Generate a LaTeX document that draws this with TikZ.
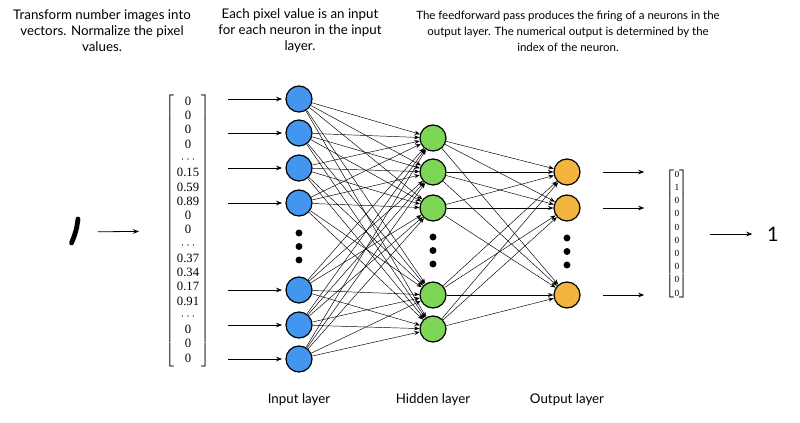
\documentclass[tikz,border=0pt]{standalone}
\usepackage{fontspec}
\setmainfont{Lato}
\newfontfamily\vecfont{Liberation Serif}
\usetikzlibrary{positioning, arrows.meta}
\definecolor{inblue}{RGB}{66,150,240}
\definecolor{hidgreen}{RGB}{126,214,86}
\definecolor{outorange}{RGB}{242,180,62}
\tikzset{
  neuron/.style={
    draw, circle, line width=0.9pt,
    minimum size=19.5pt, inner sep=0pt
  },
  inneuron/.style={neuron, fill=inblue},
  hidneuron/.style={neuron, fill=hidgreen},
  outneuron/.style={neuron, fill=outorange},
  % Connections between layers
  conn/.style={
    -{Stealth[length=4pt,width=3pt]}, line width=0.35pt
  },
  % Plain arrows in and out of the network
  feed/.style={
    -{Stealth[length=4.5pt,width=3.5pt]}, line width=0.6pt
  },
  caption/.style={
    align=center, font=\fontsize{10}{12}\selectfont, inner sep=0pt
  },
}

\begin{document}
\begin{tikzpicture}[x=0.75pt, y=-0.75pt]
  \useasboundingbox (0,0) rectangle (800,423);

  %% ── Captions ──
  \node[caption] (capvec) at (102,31) {Transform number images into\\vectors. Normalize the pixel\\values.};
  \node[caption] (capin) at (300,31) {Each pixel value is an input\\for each neuron in the input\\layer.};
  \node[caption, font=\fontsize{8.6}{12}\selectfont] (capout) at (568,31) {The feedforward pass produces the firing of a neurons in the\\output layer. The numerical output is determined by the\\index of the neuron.};

  %% ── Digit image ──
  \node[minimum width=25pt, minimum height=30pt, inner sep=0pt] (digit) at (74,232) {};
  \draw[line width=3.6pt, line cap=round] (78,219) to[bend left=8] (71.5,243);

  %% ── Input vector ──
  \node[inner sep=0pt, font=\vecfont\fontsize{9.5}{10.7}\selectfont] (vecin) at (188,231)
    {$\left[\begin{tabular}{@{\,}c@{\,}}
      0\\0\\0\\0\\$\cdots$\\0.15\\0.59\\0.89\\0\\0\\$\cdots$\\0.37\\0.34\\0.17\\0.91\\$\cdots$\\0\\0\\0
    \end{tabular}\right]$};

  %% ── Layers ──
  \foreach \y [count=\i] in {99,133,168,203,290,325,359}
    \node[inneuron] (in\i) at (299,\y) {};
  \foreach \y [count=\i] in {138,172,208,295,329}
    \node[hidneuron] (h\i) at (433,\y) {};
  \foreach \y [count=\i] in {172,208,295}
    \node[outneuron] (o\i) at (567,\y) {};

  %% ── Dots ──
  \foreach \x/\y in {299/233, 433/237, 567/238}
    \foreach \d in {0,13.5,27}
      \fill (\x,\y+\d) circle (2.6pt);

  %% ── Layer labels ──
  \node[caption, below=26pt of in7.center] (labin) {Input layer};
  \node[caption] (labhid) at (labin -| h5) {Hidden layer};
  \node[caption] (labout) at (labin -| o3) {Output layer};

  %% ── Connections ──
  \foreach \i in {1,...,7}
    \foreach \j in {1,...,5}
      \draw[conn] (in\i) -- (h\j);
  \foreach \i in {1,...,5}
    \foreach \j in {1,...,3}
      \draw[conn] (h\i) -- (o\j);

  %% ── Output vector ──
  \node[inner sep=0pt, font=\vecfont\fontsize{7}{9.9}\selectfont] (vecout) at (677,234)
    {$\left[\begin{tabular}{@{}c@{}}
      0\\1\\0\\0\\0\\0\\0\\0\\0\\0
    \end{tabular}\right]$};
  \node[font=\fontsize{15}{17}\selectfont, inner sep=0pt] (result) at (773,234) {1};

  %% ── Arrows in and out ──
  \draw[feed, shorten <=5pt, shorten >=20pt] (digit) -- (vecin);
  \foreach \i in {1,...,7}
    \draw[feed, shorten <=13.5pt, shorten >=2.5pt] (vecin.east |- in\i.west) -- (in\i.west);
  \foreach \i in {1,...,3}
    \draw[feed, shorten <=17pt, shorten >=16pt] (o\i.east) -- (vecout.west |- o\i.east);
  \draw[feed, shorten <=16pt, shorten >=11pt] (vecout.east |- result.west) -- (result.west);

\end{tikzpicture}
\end{document}
